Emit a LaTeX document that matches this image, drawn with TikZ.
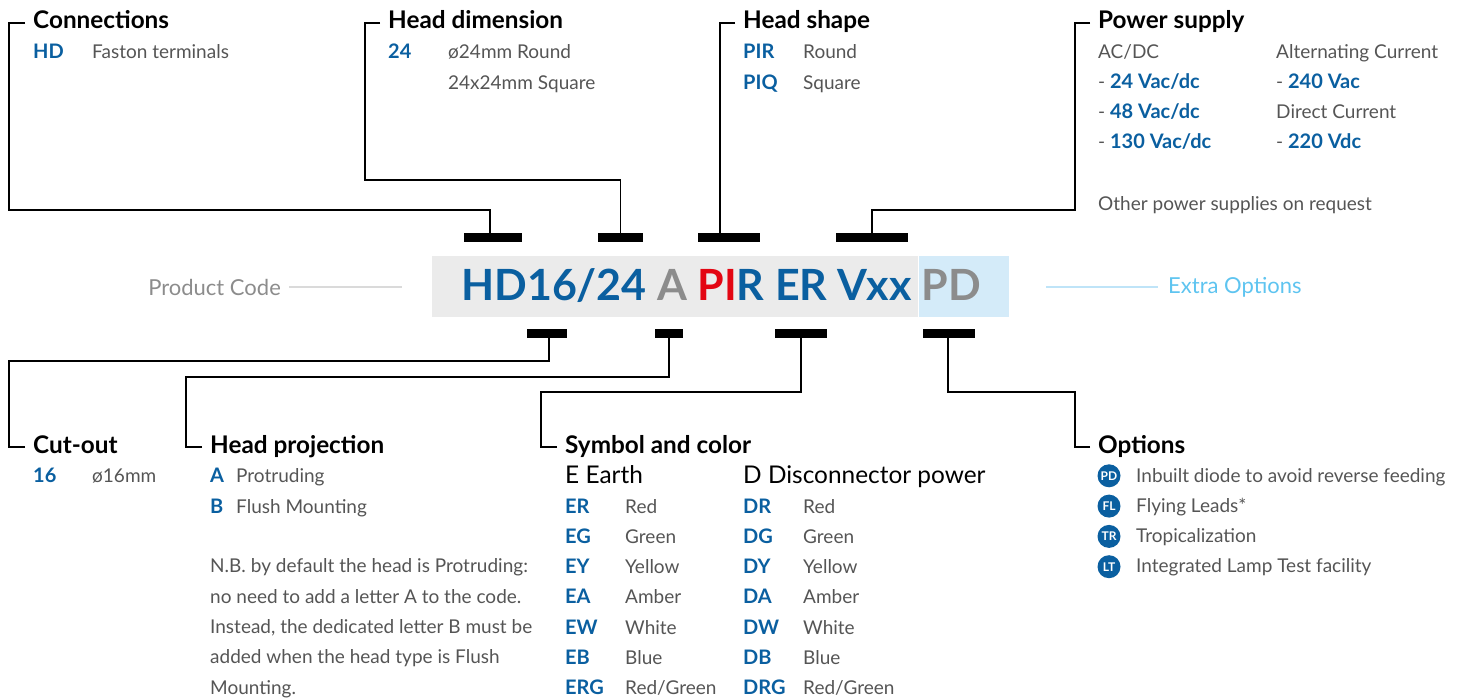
\documentclass[tikz,border=0pt]{standalone}
\usepackage{fontspec}
\setmainfont{Lato}
\usepackage{xcolor}
\usepackage{tikz}
\usetikzlibrary{positioning}

\definecolor{codeblue}{HTML}{0A5FA0}
\definecolor{codered}{HTML}{E30613}
\definecolor{codegray}{HTML}{8C8C8C}
\definecolor{boxgray}{HTML}{EBEBEB}
\definecolor{boxblue}{HTML}{D4EBF9}
\definecolor{extrablue}{HTML}{5EC4F0}
\definecolor{extraline}{HTML}{BFE4F8}
\definecolor{textgray}{HTML}{555555}
\definecolor{linegray}{HTML}{DADADA}

\newcommand{\pwrval}[1]{{\color{codeblue}\fontsize{20}{24}\selectfont\bfseries #1}}

\begin{document}
\begin{tikzpicture}[x=1pt,y=-1pt,
		head/.style={anchor=base west, inner sep=0pt, text height=17pt, text depth=5pt,
		font=\fontsize{24.3}{28}\selectfont\bfseries},
		code/.style={anchor=base west, inner sep=0pt, text=codeblue, font=\fontsize{20}{24}\selectfont\bfseries},
		desc/.style={anchor=base west, inner sep=0pt, text=textgray, font=\fontsize{19}{23}\selectfont},
		group/.style={anchor=base west, inner sep=0pt, font=\fontsize{24.4}{28}\selectfont},
		bar/.style={fill=black, inner sep=0pt, minimum height=9pt},
		link/.style={draw, line width=1.2pt},
		badge/.style={circle, fill=codeblue, text=white, inner sep=0pt, minimum size=23pt,
		font=\fontsize{12}{12}\selectfont\bfseries},
		guide/.style={line width=2pt}]

		\useasboundingbox (0,0) rectangle (1459,700);

		% product code
		\node[fill=boxgray, anchor=north west, inner sep=0pt, minimum width=486pt, minimum height=61pt] (codebox) at (432,256) {};
		\node[fill=boxblue, anchor=north west, inner sep=0pt, minimum width=90pt, minimum height=61pt] (extrabox) at (codebox.north east) {};
		\node[anchor=base west, inner sep=0pt, font=\fontsize{43}{48}\selectfont\bfseries] (pcode) at (461,301)
		{\textcolor{codeblue}{HD16/24} \textcolor{codegray}{A} \textcolor{codered}{PI}\textcolor{codeblue}{R ER Vxx} \textcolor{codegray}{PD}};

		\node[anchor=east, inner sep=0pt, text=codegray, font=\fontsize{22}{26}\selectfont] (pclabel) at (281,287) {Product Code};
		\coordinate (pcend) at (402,287);
		\draw[guide, linegray] ([xshift=8pt]pclabel.east) -- (pcend);
		\node[anchor=west, inner sep=0pt, text=extrablue, font=\fontsize{22}{26}\selectfont] (xolabel) at (1168,287) {Extra Options};
		\coordinate (xostart) at (1046,287);
		\draw[guide, extraline] (xostart) -- ([xshift=-10pt]xolabel.west);

		% bars above and below the code
		\node[bar, minimum width=58pt] (t1) at (493,237.5) {};
		\node[bar, minimum width=45pt] (t2) at (620.5,237.5) {};
		\node[bar, minimum width=62pt] (t3) at (729,237.5) {};
		\node[bar, minimum width=72pt] (t4) at (872,237.5) {};
		\node[bar, minimum width=40pt] (b1) at (547,333.5) {};
		\node[bar, minimum width=28pt] (b2) at (669,333.5) {};
		\node[bar, minimum width=52pt] (b3) at (801,333.5) {};
		\node[bar, minimum width=52pt] (b4) at (949,333.5) {};

		% Connections
		\node[head] (conn) at (33,29) {Connections};
		\node[code] (hd) at (33,59) {HD};
		\node[desc] (faston) at (92,59) {Faston terminals};
		\draw[link] ([xshift=-8pt]conn.west) -| (9,210) -| ([xshift=-3pt]t1.north);

		% Head dimension
		\node[head] (hdim) at (388,29) {Head dimension};
		\node[code] (d24) at (388,59) {24};
		\node[desc] (round24) at (448,59) {ø24mm Round};
		\node[desc] (square24) at (448,90) {24x24mm Square};
		\draw[link] ([xshift=-8pt]hdim.west) -| (365,180) -| (t2.north);

		% Head shape
		\node[head] (hshape) at (743,29) {Head shape};
		\node[code] (pir) at (743,59) {PIR};
		\node[desc] (round) at (803,59) {Round};
		\node[code] (piq) at (743,90) {PIQ};
		\node[desc] (square) at (803,90) {Square};
		\draw[link] ([xshift=-8pt]hshape.west) -| ([xshift=-9pt]t3.north);

		% Power supply
		\node[head] (power) at (1098,29) {Power supply};
		\node[desc] (acdc) at (1098,59) {AC/DC};
		\node[desc] (v24) at (1098,89) {- \pwrval{24 Vac/dc}};
		\node[desc] (v48) at (1098,119) {- \pwrval{48 Vac/dc}};
		\node[desc] (v130) at (1098,149) {- \pwrval{130 Vac/dc}};
		\node[desc] (altc) at (1276,59) {Alternating Current};
		\node[desc] (v240) at (1276,89) {- \pwrval{240 Vac}};
		\node[desc] (dirc) at (1276,119) {Direct Current};
		\node[desc] (v220) at (1276,149) {- \pwrval{220 Vdc}};
		\node[desc] (other) at (1098,211) {Other power supplies on request};
		\draw[link] ([xshift=-8pt]power.west) -| (1075,210) -| (t4.north);

		% Cut-out
		\node[head] (cut) at (33,453) {Cut-out};
		\node[code] (c16) at (33,482) {16};
		\node[desc] (d16) at (92,482) {ø16mm};
		\draw[link] ([xshift=-8pt]cut.west) -| (9,361) -| ([xshift=2pt]b1.south);

		% Head projection
		\node[head] (proj) at (210,453) {Head projection};
		\node[code] (pa) at (210,482) {A};
		\node[desc] (prot) at (236,482) {Protruding};
		\node[code] (pb) at (210,513) {B};
		\node[desc] (flush) at (236,513) {Flush Mounting};
		\foreach \line [count=\i] in {{N.B. by default the head is Protruding:},
			{no need to add a letter A to the code.},
			{Instead, the dedicated letter B must be},
			{added when the head type is Flush},
			{Mounting.}}{
			\node[desc] (nb\i) at (210,542.5+30.3*\i) {\line};
		}
		\draw[link] ([xshift=-8pt]proj.west) -| (186,377) -| (b2.south);

		% Symbol and color
		\node[head] (sym) at (565,453) {Symbol and color};
		\node[group] (earth) at (565,483) {E Earth};
		\node[group] (disc) at (743,483) {D Disconnector power};
		\foreach \c/\n [count=\i] in {R/Red, G/Green, Y/Yellow, A/Amber, W/White, B/Blue, RG/{Red/Green}}{
			\node[code] (e\c) at (565,482.7+30.3*\i) {E\c};
			\node[desc] (en\c) at (625,482.7+30.3*\i) {\n};
			\node[code] (d\c) at (743,482.7+30.3*\i) {D\c};
			\node[desc] (dn\c) at (803,482.7+30.3*\i) {\n};
		}
		\draw[link] ([xshift=-8pt]sym.west) -| (541,392) -| (b3.south);

		% Options
		\node[head] (opts) at (1098,453) {Options};
		\foreach \b/\n [count=\i] in {PD/Inbuilt diode to avoid reverse feeding, FL/Flying Leads*,
			TR/Tropicalization, LT/Integrated Lamp Test facility}{
			\node[badge] (o\b) at (1109,445.5+30.3*\i) {\b};
			\node[desc] (on\b) at (1136,451.7+30.3*\i) {\n};
		}
		\draw[link] ([xshift=-8pt]opts.west) -| (1075,392) -| ([xshift=-1pt]b4.south);

\end{tikzpicture}
\end{document}
